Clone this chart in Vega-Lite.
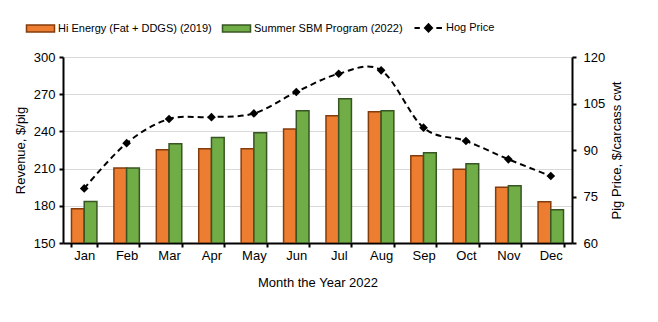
{
  "$schema": "https://vega.github.io/schema/vega-lite/v6.json",
  "width": 509,
  "height": 186,
  "autosize": {"type": "none"},
  "padding": {"left": 63, "top": 57, "right": 86, "bottom": 79},
  "config": {
    "font": "Liberation Sans",
    "view": {"stroke": null},
    "axis": {"labelFont": "Liberation Sans", "titleFont": "Liberation Sans", "labelFontSize": 13, "titleFontSize": 13, "labelColor": "#000", "titleColor": "#000", "titleFontWeight": "normal", "domainColor": "#000", "tickColor": "#000", "domainWidth": 2, "tickWidth": 2, "tickSize": 4},
    "legend": {"labelFont": "Liberation Sans", "labelFontSize": 11, "labelColor": "#000", "labelLimit": 0}
  },
  "datasets": {
    "rev": [
      {"month": "Jan", "series": "Hi Energy (Fat + DDGS) (2019)", "revenue": 177.7},
      {"month": "Jan", "series": "Summer SBM Program (2022)", "revenue": 183.4},
      {"month": "Feb", "series": "Hi Energy (Fat + DDGS) (2019)", "revenue": 210.5},
      {"month": "Feb", "series": "Summer SBM Program (2022)", "revenue": 210.5},
      {"month": "Mar", "series": "Hi Energy (Fat + DDGS) (2019)", "revenue": 225.3},
      {"month": "Mar", "series": "Summer SBM Program (2022)", "revenue": 230.1},
      {"month": "Apr", "series": "Hi Energy (Fat + DDGS) (2019)", "revenue": 226.1},
      {"month": "Apr", "series": "Summer SBM Program (2022)", "revenue": 235.0},
      {"month": "May", "series": "Hi Energy (Fat + DDGS) (2019)", "revenue": 226.1},
      {"month": "May", "series": "Summer SBM Program (2022)", "revenue": 238.9},
      {"month": "Jun", "series": "Hi Energy (Fat + DDGS) (2019)", "revenue": 241.9},
      {"month": "Jun", "series": "Summer SBM Program (2022)", "revenue": 256.7},
      {"month": "Jul", "series": "Hi Energy (Fat + DDGS) (2019)", "revenue": 252.7},
      {"month": "Jul", "series": "Summer SBM Program (2022)", "revenue": 266.4},
      {"month": "Aug", "series": "Hi Energy (Fat + DDGS) (2019)", "revenue": 255.9},
      {"month": "Aug", "series": "Summer SBM Program (2022)", "revenue": 256.7},
      {"month": "Sep", "series": "Hi Energy (Fat + DDGS) (2019)", "revenue": 220.4},
      {"month": "Sep", "series": "Summer SBM Program (2022)", "revenue": 222.8},
      {"month": "Oct", "series": "Hi Energy (Fat + DDGS) (2019)", "revenue": 209.4},
      {"month": "Oct", "series": "Summer SBM Program (2022)", "revenue": 214.0},
      {"month": "Nov", "series": "Hi Energy (Fat + DDGS) (2019)", "revenue": 194.9},
      {"month": "Nov", "series": "Summer SBM Program (2022)", "revenue": 196.2},
      {"month": "Dec", "series": "Hi Energy (Fat + DDGS) (2019)", "revenue": 183.3},
      {"month": "Dec", "series": "Summer SBM Program (2022)", "revenue": 176.9}
    ],
    "hog": [
      {"month": "Jan", "price": 77.6},
      {"month": "Feb", "price": 92.2},
      {"month": "Mar", "price": 100.0},
      {"month": "Apr", "price": 100.6},
      {"month": "May", "price": 101.8},
      {"month": "Jun", "price": 108.7},
      {"month": "Jul", "price": 114.6},
      {"month": "Aug", "price": 115.7},
      {"month": "Sep", "price": 97.2},
      {"month": "Oct", "price": 92.9},
      {"month": "Nov", "price": 87.0},
      {"month": "Dec", "price": 81.6}
    ]
  },
  "encoding": {
    "x": {
      "field": "month", "type": "nominal", "sort": ["Jan","Feb","Mar","Apr","May","Jun","Jul","Aug","Sep","Oct","Nov","Dec"],
      "scale": {"paddingInner": 0.4, "paddingOuter": 0.2},
      "axis": {"title": "Month the Year 2022", "labelAngle": 0, "tickBand": "extent", "labelPadding": 2, "titlePadding": 14}
    }
  },
  "layer": [
    {
      "data": {"name": "rev"},
      "mark": {"type": "bar", "strokeWidth": 1.5, "clip": true},
      "encoding": {
        "xOffset": {"field": "series", "type": "nominal", "sort": ["Hi Energy (Fat + DDGS) (2019)", "Summer SBM Program (2022)"], "scale": {"paddingInner": 0, "paddingOuter": 0}},
        "y": {
          "field": "revenue", "type": "quantitative",
          "scale": {"domain": [150, 300], "zero": false, "nice": false},
          "axis": {"title": "Revenue, $/pig", "values": [150, 180, 210, 240, 270, 300], "grid": true, "gridColor": "#D9D9D9", "gridWidth": 1, "labelPadding": 4, "titlePadding": 6}
        },
        "y2": {"datum": 150},
        "color": {
          "field": "series", "type": "nominal",
          "scale": {"domain": ["Hi Energy (Fat + DDGS) (2019)", "Summer SBM Program (2022)", "Hog Price"], "range": ["#ED7D31", "#70AD47", "#000000"]},
          "legend": {
            "title": null, "orient": "none", "direction": "horizontal", "legendX": -28, "legendY": -35,
            "symbolSize": 784, "columnPadding": 7, "labelOffset": 12, "symbolStrokeWidth": 1.5,
            "encode": {
              "symbols": {
                "update": {
                  "shape": {"signal": "datum.value === 'Hog Price' ? 'M-1,0H-0.62M-0.25,0L0,-0.26L0.25,0L0,0.26ZM0.56,0H0.96' : 'M-1,-0.25H1V0.25H-1Z'"},
                  "stroke": {"signal": "datum.value === 'Hi Energy (Fat + DDGS) (2019)' ? '#843C0C' : datum.value === 'Summer SBM Program (2022)' ? '#375623' : '#000000'"},
                  "strokeWidth": {"signal": "datum.value === 'Hog Price' ? 2 : 1.5"}
                }
              }
            }
          }
        },
        "stroke": {
          "field": "series", "type": "nominal",
          "scale": {"domain": ["Hi Energy (Fat + DDGS) (2019)", "Summer SBM Program (2022)"], "range": ["#843C0C", "#375623"]},
          "legend": null
        }
      }
    },
    {
      "data": {"name": "hog"},
      "mark": {"type": "line", "color": "#000", "strokeWidth": 2, "strokeDash": [6, 4], "interpolate": "cardinal"},
      "encoding": {
        "y": {
          "field": "price", "type": "quantitative",
          "scale": {"domain": [60, 120], "zero": false, "nice": false},
          "axis": {"title": "Pig Price, $/carcass cwt", "orient": "right", "values": [60, 75, 90, 105, 120], "grid": false, "labelPadding": 7, "titlePadding": 19, "titleAngle": 270}
        }
      }
    },
    {
      "data": {"name": "hog"},
      "mark": {"type": "point", "shape": "diamond", "filled": true, "color": "#000", "size": 75, "opacity": 1},
      "encoding": {
        "y": {"field": "price", "type": "quantitative", "scale": {"domain": [60, 120], "zero": false, "nice": false}, "axis": null}
      }
    }
  ],
  "resolve": {"scale": {"y": "independent", "color": "independent", "stroke": "independent"}}
}
